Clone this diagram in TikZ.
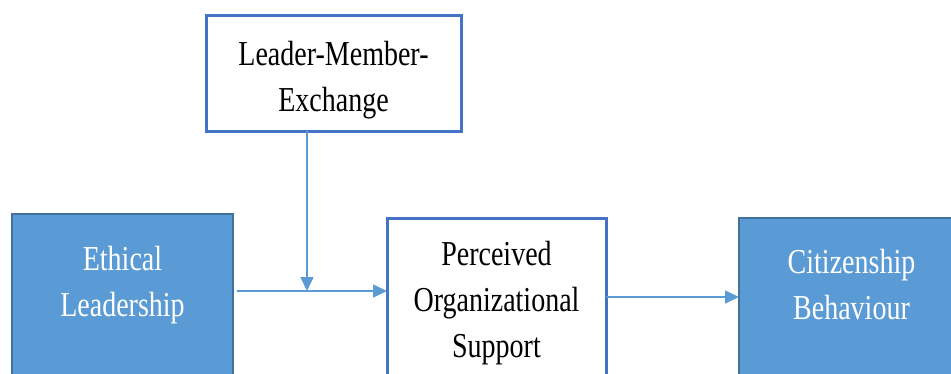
\documentclass[tikz,border=0pt]{standalone}
\usepackage{fontspec}
\setmainfont{Liberation Serif}[FakeStretch=0.8]
\usepackage{tikz}
\usetikzlibrary{positioning,arrows.meta}
\definecolor{LineBlue}{RGB}{68,114,196}
\definecolor{FillBlue}{RGB}{91,155,213}
\definecolor{EdgeBlue}{RGB}{65,113,156}
\tikzset{
    boxtext/.style={inner sep=0pt, align=center, font=\fontsize{35}{46}\selectfont},
    outlinebox/.style={rectangle, draw=LineBlue, line width=3pt, fill=white, inner sep=0pt, outer sep=0pt},
    filledbox/.style={rectangle, draw=EdgeBlue, line width=2.5pt, fill=FillBlue, inner sep=0pt, outer sep=0pt}
}

\begin{document}
\begin{tikzpicture}[
        % --- ĐƠN VỊ: 1 điểm ảnh = 1pt, trục y hướng xuống ---
        x=1pt, y=-1pt,
        % --- STYLE MŨI TÊN ---
        link/.style={draw=FillBlue, line width=1.6pt, -{Triangle[length=14pt,width=13pt]}}
    ]

        % --- KHUNG HÌNH (cắt phần dưới các hộp) ---
        \path[use as bounding box, clip] (0,0) rectangle (951,373);

        % --- BIẾN ĐIỀU TIẾT: Leader-Member-Exchange ---
        \node[outlinebox, minimum width=255pt, minimum height=116pt, anchor=north west,
            label={[boxtext, anchor=north, yshift=-26pt]north:Leader-Member-\\Exchange}] (lmx) at (206,15) {};

        % --- BIẾN ĐỘC LẬP ---
        \node[filledbox, minimum width=221pt, minimum height=200pt, anchor=north west,
            label={[boxtext, text=white, anchor=north, yshift=-32pt]north:Ethical\\Leadership}] (ethical) at (12,214) {};

        % --- BIẾN TRUNG GIAN ---
        \node[outlinebox, minimum width=219pt, minimum height=200pt, anchor=north west,
            label={[boxtext, anchor=north, yshift=-23pt]north:Perceived\\Organizational\\Support}] (pos) at (387,218) {};

        % --- BIẾN PHỤ THUỘC ---
        \node[filledbox, minimum width=225pt, minimum height=200pt, anchor=north west,
            label={[boxtext, text=white, anchor=north, yshift=-31pt]north:Citizenship\\Behaviour}] (cit) at (739,218) {};

        % --- CÁC MŨI TÊN ---
        \coordinate (join) at (307,291); % điểm tác động điều tiết
        \draw[link] (lmx.south -| join) -- (join);
        \draw[link] ([xshift=4pt]ethical.east |- join) -- (pos.west |- join);
        \draw[link] (pos.east |- 0,297) -- (cit.west |- 0,297);

    \end{tikzpicture}
\end{document}
